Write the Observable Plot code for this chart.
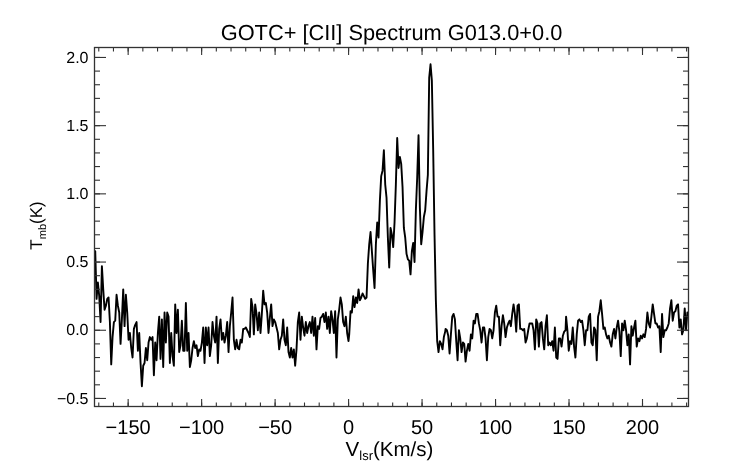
<!DOCTYPE html>
<html>
<head>
<meta charset="utf-8">
<script src="https://cdn.jsdelivr.net/npm/d3@7"></script>
<script src="https://cdn.jsdelivr.net/npm/@observablehq/plot@0.6"></script>
<style>
  html, body { margin: 0; padding: 0; background: #fff; }
  #chart { width: 742px; height: 464px; }
  svg text { text-rendering: geometricPrecision; }
  #chart { filter: grayscale(100%); }
</style>
</head>
<body>
<div id="chart"></div>
<script>
const titleText = "GOTC+ [CII] Spectrum G013.0+0.0";

// channel width (km/s) and first-channel velocity of each spectrum segment
const channelWidth = 0.907;
const segmentStartVelocity = [-172.4, 0.43, 66.0, 148.0];

// Tmb (K) by channel, v_lsr from -172 to 0 km/s
const tmbBlueSide = [
  0.58, 0.23, 0.35, 0.25, 0.06, 0.47, 0.30,
  0.15, 0.18, 0.23, 0.24, 0.06,
  -0.25, -0.05, 0.06, 0.07, 0.26, 0.18, 0.13, -0.10, 0.08,
  0.30, 0.03, 0.26, 0.13, -0.07, -0.02, -0.13, -0.20, 0.01, 0.04,
  0.06, -0.15, -0.02, -0.24, -0.41, -0.26, -0.24, -0.13, -0.22, -0.09,
  -0.05, -0.07, -0.05, -0.33, -0.09, -0.22, -0.02, 0.10, -0.21, 0.08,
  -0.27, 0.13, -0.09, 0.13, 0.10, -0.24, -0.02, -0.19, -0.26, 0.19,
  -0.02, 0.15, -0.16, -0.11, 0.07, -0.15, -0.15, 0.20, -0.15, -0.02,
  -0.27, -0.22, -0.13, -0.08, -0.13, -0.11, -0.19, -0.14, -0.15, -0.09,
  0.02, -0.24, 0.02, -0.11, 0.02, -0.19, -0.11, 0.06, -0.04, -0.09,
  0.10, -0.24, 0.01, 0.08, -0.07, -0.02, -0.09, -0.04, 0.06, -0.16,
  0.03, 0.13, 0.24, -0.07, -0.14, -0.07, -0.13, -0.14, -0.07, -0.09,
  0.01, 0.01, 0.02, 0.00, -0.02, -0.05, 0.23, 0.17, -0.03, 0.19,
  0.12, 0.00, 0.13, -0.02, 0.12, 0.29, 0.19, 0.20, 0.13, -0.02,
  0.09, 0.19, 0.03, 0.08, 0.06, 0.02, -0.02, -0.14, -0.07, -0.04,
  0.08, -0.07, -0.11, 0.02, -0.16, -0.20, -0.13, -0.20, -0.14, -0.26,
  -0.14, 0.06, 0.13, -0.07, 0.10, 0.02, -0.04, 0.06, -0.02, 0.03,
  0.06, -0.02, 0.10, -0.04, 0.09, -0.14, 0.03, 0.01, 0.09, 0.10,
  0.12, 0.06, 0.13, 0.01, 0.10, -0.02, 0.14, 0.08, -0.02, 0.14,
  -0.20, 0.08, 0.15, 0.24, 0.19, 0.06, 0.03, 0.10, -0.02, -0.08
];

// Tmb (K), v_lsr from 0 to 66 km/s (emission complex)
const tmbEmission = [
  -0.03, 0.14, 0.13, 0.25, 0.17, 0.24, 0.20, 0.30, 0.22, 0.24,
  0.27, 0.25, 0.23, 0.24,
  0.49, 0.63, 0.72, 0.58, 0.44, 0.31, 0.63, 0.79, 0.68, 0.95,
  1.13, 1.17, 1.32, 1.07, 0.97, 0.68, 0.46, 0.75, 0.70, 0.61,
  0.79, 1.07, 1.41, 1.19, 1.27, 1.22, 1.05, 0.75, 0.68, 0.56,
  0.52, 0.51, 0.41, 0.58, 0.64, 0.50, 0.88, 1.12, 1.43, 0.90,
  0.63, 0.72, 0.83, 0.88, 1.02, 1.14, 1.85, 1.95, 1.83, 1.32,
  0.70, 0.22, -0.08, -0.16, -0.08, -0.10, -0.14, -0.05, -0.01
];

// Tmb (K), v_lsr from 66 to 147 km/s
const tmbRedSide = [
  0.01, 0.00, -0.04, -0.17, -0.03, 0.10, 0.12, 0.08, -0.08, -0.22,
  0.00, -0.06, -0.16, -0.09, -0.10, -0.23, -0.15, -0.10, -0.15, -0.03,
  -0.06, 0.07, 0.05, 0.12, 0.12, 0.05, 0.00, -0.09, 0.02, 0.02,
  -0.06, -0.22, -0.05, 0.01, 0.00, -0.06, 0.00, 0.13, 0.18, 0.10,
  0.10, -0.11, 0.03, 0.11, 0.05, -0.05, 0.02, 0.05, 0.07, 0.03,
  0.12, 0.19, 0.12, -0.01, 0.18, 0.19, 0.01, 0.01, 0.00, 0.01,
  -0.09, -0.06, 0.00, 0.05, 0.05, 0.05, 0.00, -0.14, 0.08, 0.05,
  -0.12, 0.05, 0.06, -0.06, -0.14, 0.03, 0.11, -0.11, -0.09, -0.11,
  -0.08, -0.15, 0.02, -0.20, -0.21, -0.06, -0.06, -0.12, -0.04, -0.01,
  0.00
];

// Tmb (K), v_lsr from 148 to 231 km/s
const tmbFarRed = [
  0.10, 0.00, -0.15, -0.08, -0.10, 0.02, -0.12, -0.20, -0.03, 0.07,
  0.08, 0.06, 0.07, 0.00, -0.11, 0.00, 0.00, 0.10, 0.12, -0.09,
  -0.11, 0.02, 0.00, -0.22, 0.10, 0.14, 0.22, 0.12, 0.01, 0.02,
  -0.03, -0.06, -0.04, -0.09, -0.12, -0.03, 0.01, -0.06, 0.02, 0.07,
  -0.01, -0.19, 0.05, 0.00, 0.07, 0.00, -0.11, -0.03, -0.25, 0.03,
  -0.04, 0.02, 0.07, -0.12, -0.06, -0.08, -0.04, -0.06, -0.03, -0.05,
  0.01, 0.13, 0.05, 0.02, 0.10, 0.19, 0.12, 0.05, 0.05, 0.02,
  0.03, -0.16, 0.12, -0.05, 0.00, 0.00, 0.02, 0.05, 0.16, 0.22,
  0.07, 0.13, 0.14, 0.18, 0.19, 0.02, 0.08, -0.03, 0.00, 0.16,
  0.00, 0.13
];

const xMajorTicks = [-150, -100, -50, 0, 50, 100, 150, 200];
const yMajorTicks = [-0.5, 0.0, 0.5, 1.0, 1.5, 2.0];
const xMinorTicks = d3.range(-170, 231, 10);
const yMinorTicks = d3.range(-5, 21).map(d => d / 10);

const segments = [tmbBlueSide, tmbEmission, tmbRedSide, tmbFarRed];
const spectrum = segments.flatMap((seg, s) =>
  seg.map((t, i) => ({ v: segmentStartVelocity[s] + i * channelWidth, t }))
);

const axisColor = "#333";
const noText = { fill: null, label: null, stroke: axisColor, strokeWidth: 1.1 };

const chart = Plot.plot({
  width: 742,
  height: 464,
  marginLeft: 94,
  marginRight: 54,
  marginTop: 47,
  marginBottom: 58,
  style: {
    fontFamily: "'Liberation Sans', Arial, Helvetica, sans-serif",
    color: "#000",
    background: "#fff",
    overflow: "visible"
  },
  x: { domain: [-172.9, 231.3] },
  y: { domain: [-0.559, 2.073] },
  marks: [
    Plot.line(spectrum, { x: "v", y: "t", stroke: "#000", strokeWidth: 1.9 }),
    Plot.frame({ stroke: axisColor, strokeWidth: 1.3 }),
    Plot.axisX(xMinorTicks, { anchor: "bottom", tickSize: -3.5, ...noText }),
    Plot.axisX(xMinorTicks, { anchor: "top", tickSize: -3.5, ...noText }),
    Plot.axisX(xMajorTicks, { anchor: "bottom", tickSize: -7, ...noText }),
    Plot.axisX(xMajorTicks, { anchor: "top", tickSize: -7, ...noText }),
    Plot.axisY(yMinorTicks, { anchor: "left", tickSize: -6, ...noText }),
    Plot.axisY(yMinorTicks, { anchor: "right", tickSize: -6, ...noText }),
    Plot.axisY(yMajorTicks, { anchor: "left", tickSize: -12, ...noText }),
    Plot.axisY(yMajorTicks, { anchor: "right", tickSize: -12, ...noText }),
    Plot.axisX(xMajorTicks, { anchor: "bottom", tickSize: 0, tickPadding: 13, fontSize: 20, label: null, fill: "#000" }),
    Plot.axisY(yMajorTicks, { anchor: "left", tickSize: 0, tickPadding: 6, fontSize: 16, label: null, fill: "#000", tickFormat: d3.format(".1f") }),
    Plot.text([titleText], { text: d => d, frameAnchor: "top", lineAnchor: "bottom", dy: -8, fontSize: 21.8, fill: "#000" })
  ]
});

const svg = d3.select(chart);
// x-axis title with subscript
const xl = svg.append("text")
  .attr("x", 389.5).attr("y", 456)
  .attr("text-anchor", "middle")
  .attr("font-size", 20.5).style("fill", "#000");
xl.append("tspan").text("V");
xl.append("tspan").attr("font-size", 13).attr("dy", 4).text("lsr");
xl.append("tspan").attr("dy", -4).text("(Km/s)");
// y-axis title with subscript
const yl = svg.append("text")
  .attr("transform", "translate(42,225.5) rotate(-90)")
  .attr("text-anchor", "middle")
  .attr("font-size", 17).style("fill", "#000");
yl.append("tspan").text("T");
yl.append("tspan").attr("font-size", 11).attr("dy", 4).text("mb");
yl.append("tspan").attr("dy", -4).text("(K)");

document.getElementById("chart").appendChild(chart);
</script>
</body>
</html>
